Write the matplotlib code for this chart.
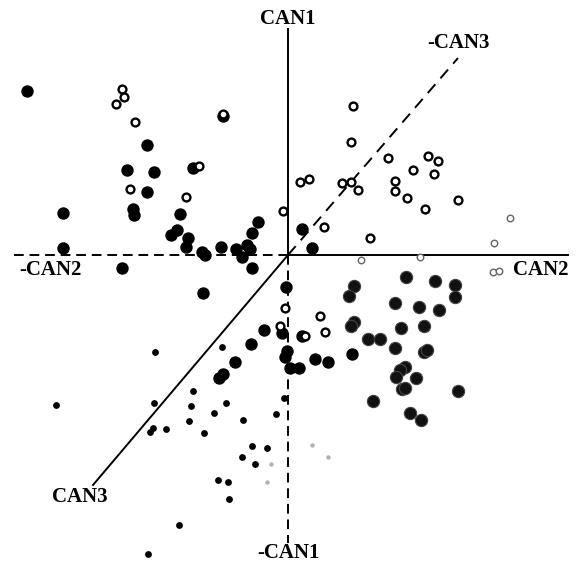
import matplotlib
matplotlib.use("Agg")
import matplotlib.pyplot as plt
import numpy as np

# Canonical scores (CAN2 on x, CAN1 on y)
open_x = [-16.6, -16.4, -17.2, -15.3, -15.8, -10.2, -8.9, -6.5, -0.5, 6.5, 6.3, 1.2, 2.1, 5.4, 6.3, 7.0,
          3.6, 8.2, 10.0, 14.0, 15.0, 12.5, 14.6, 10.7, 10.7, 11.9, 13.7, 17.0, -0.3, 3.2, 3.7, -0.8, 1.7]
open_y = [16.6, 15.8, 15.1, 13.3, 6.6, 5.8, 8.9, 14.1, 4.4, 14.9, 11.3, 7.3, 7.6, 7.2, 7.3, 6.5,
          2.8, 1.7, 9.7, 9.9, 9.4, 8.5, 8.1, 7.4, 6.4, 5.7, 4.6, 5.5, -5.3, -6.1, -7.7, -7.1, -8.1]

faint_open_x = [22.2, 20.6, 13.2, 7.3, 20.5, 21.1]
faint_open_y = [3.7, 1.2, -0.2, -0.5, -1.7, -1.6]

black_x = [-26.1, -14.1, -16.1, -13.4, -9.5, -14.1, -15.5, -15.4, -22.5, -10.8, -11.7, -11.1, -10.0, -10.2,
           -22.5, -8.6, -8.3, -3.0, -3.6, -4.1, -3.8, -5.2, -4.6, -6.7, 1.4, 2.4, -16.6, -3.6, -8.5,
           -0.2, -0.6, -2.4, -3.7, -0.1, -0.3, 0.2, 1.1, 2.7, 4.0, 6.4, -5.3, -6.5, -6.9, -6.5, 1.4]
black_y = [16.4, 11.0, 8.5, 8.3, 8.7, 6.3, 4.6, 4.0, 4.2, 4.1, 2.0, 2.5, 1.7, 0.8,
           0.7, 0.3, 0.0, 3.3, 2.2, 1.0, 0.6, 0.6, -0.2, 0.8, 2.6, 0.7, -1.3, -1.3, -3.8,
           -3.2, -7.8, -7.5, -8.9, -9.6, -10.2, -11.3, -11.3, -10.4, -10.7, -9.9, -10.7, -11.9, -12.3, 13.9, -8.1]

grey_x = [11.8, 14.7, 16.7, 16.7, 10.7, 13.1, 15.1, 11.3, 13.6, 10.7, 13.6, 13.9, 11.7, 11.2, 10.8, 12.8,
          11.4, 11.7, 17.0, 12.2, 13.3, 6.6, 6.1, 6.6, 6.3, 8.0, 9.2, 8.5]
grey_y = [-2.2, -2.6, -3.0, -4.2, -4.8, -5.2, -5.5, -7.3, -7.1, -9.3, -9.7, -9.5, -11.2, -11.5, -12.2, -12.3,
          -13.4, -13.3, -13.6, -15.8, -16.5, -3.1, -4.1, -6.7, -7.1, -8.4, -8.4, -14.6]

small_x = [-6.6, -13.3, -23.2, -13.4, -9.5, -9.7, -9.9, -13.5, -13.8, -12.2, -8.4, -6.2, -7.4, -4.5, -1.2,
           -0.4, -3.6, -2.1, -4.6, -3.3, -7.0, -6.0, -5.9, -10.9, -14.0]
small_y = [-9.2, -9.7, -15.0, -14.8, -13.6, -15.1, -16.6, -17.3, -17.7, -17.4, -17.8, -14.8, -15.8, -16.5, -15.9,
           -14.3, -19.1, -19.3, -20.2, -20.9, -22.5, -22.7, -24.4, -27.0, -29.9]

tiny_x = [-1.7, -2.1, 2.4, 4.0]
tiny_y = [-20.9, -22.7, -19.0, -20.2]

# axis-line end points (in score units) and labels
can1_top, can1_bottom = 22.6, -28.8
can2_left, can2_right = -27.4, 28.0
can3_end = (-19.5, -23.0)
neg_can3_end = (17.0, 19.7)
labels = ["CAN1", "-CAN1", "CAN2", "-CAN2", "CAN3", "-CAN3"]

fig = plt.figure(figsize=(5.78, 5.67), dpi=100)
ax = fig.add_axes([0, 0, 1, 1])
ax.set_xlim(-28.8, 29.0)
ax.set_ylim(-31.2, 25.5)
ax.axis("off")

lw = 1.4
ax.plot([0, 0], [0, can1_top], color="black", lw=lw)
ax.plot([0, 0], [0, can1_bottom], color="black", lw=lw, dashes=(5, 3))
ax.plot([0, can2_right], [0, 0], color="black", lw=lw)
ax.plot([can2_left, 0], [0, 0], color="black", lw=lw, dashes=(5, 3))
ax.plot([0, can3_end[0]], [0, can3_end[1]], color="black", lw=lw)
ax.plot([0, neg_can3_end[0]], [0, neg_can3_end[1]], color="black", lw=lw, dashes=(6, 4))

ax.scatter(tiny_x, tiny_y, s=10, color="#b0b0b0", zorder=3, linewidths=0)
ax.scatter(small_x, small_y, s=24, color="black", zorder=3, linewidths=0)
ax.scatter(grey_x, grey_y, s=78, color="#111111", edgecolors="#444444", linewidths=0.8, zorder=3)
ax.scatter(black_x, black_y, s=80, color="black", linewidths=0, zorder=4)
ax.scatter(faint_open_x, faint_open_y, s=22, facecolors="white", edgecolors="#666666", linewidths=1.0, zorder=5)
ax.scatter(open_x, open_y, s=32, facecolors="white", edgecolors="black", linewidths=1.7, zorder=5)

fs = 15
font = dict(family="Liberation Serif", fontweight="bold", fontsize=fs, color="black")
ax.text(0, 23.6, labels[0], ha="center", va="center", **font)
ax.text(0, -29.8, labels[1], ha="center", va="center", **font)
ax.text(25.3, -1.5, labels[2], ha="center", va="center", **font)
ax.text(-23.8, -1.5, labels[3], ha="center", va="center", **font)
ax.text(-20.8, -24.2, labels[4], ha="center", va="center", **font)
ax.text(17.0, 21.2, labels[5], ha="center", va="center", **font)

fig.savefig("out.png", dpi=100, facecolor="white")
